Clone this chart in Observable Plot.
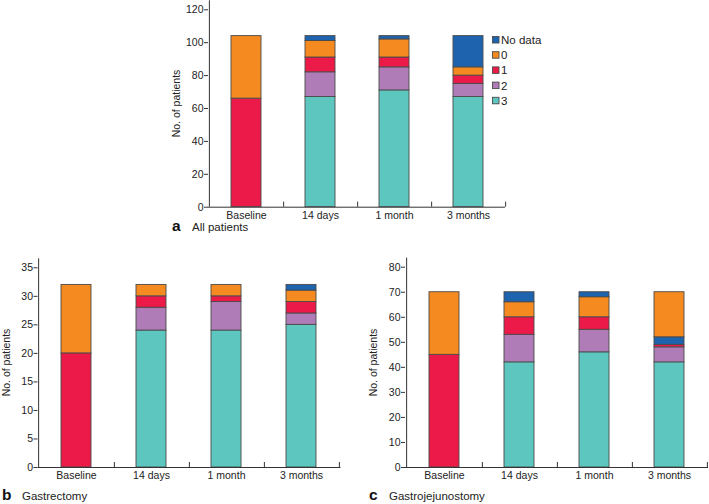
<!DOCTYPE html>
<html><head><meta charset="utf-8">
<script src="https://cdn.jsdelivr.net/npm/d3@7"></script>
<script src="https://cdn.jsdelivr.net/npm/@observablehq/plot@0.6"></script>
<style>
body{margin:0;background:#fff;}
#root{position:relative;width:709px;height:504px;overflow:hidden;font-family:"Liberation Sans",Arial,sans-serif;color:#222;}
#root > svg, #root > div{position:absolute;}
</style></head><body><div id="root"></div>
<script>
// ---------- data ----------
const categories = ["Baseline", "14 days", "1 month", "3 months"];
const seriesNames = ["3", "2", "1", "0", "No data"];       // default stacking order (bottom -> top)
const legendNames = ["No data", "0", "1", "2", "3"];
const seriesColors = ["#5cc6bf", "#b07cb7", "#ec1a48", "#f48a20", "#1d63ae"];

// a: All patients
const a3 = [0, 67, 71, 67];
const a2 = [0, 15, 14, 8];
const a1 = [66, 9, 6, 5];
const a0 = [38, 10, 11, 5];
const aNoData = [0, 3, 2, 19];
const aTicks = [0, 20, 40, 60, 80, 100, 120];

// b: Gastrectomy
const b3 = [0, 24, 24, 25];
const b2 = [0, 4, 5, 2];
const b1 = [20, 2, 1, 2];
const b0 = [12, 2, 2, 2];
const bNoData = [0, 0, 0, 1];
const bTicks = [0, 5, 10, 15, 20, 25, 30, 35];

// c: Gastrojejunostomy
const c3 = [0, 42, 46, 42];
const c2 = [0, 11, 9, 6];
const c1 = [45, 7, 5, 1];
const c0 = [25, 6, 8, 18];
const cNoData = [0, 4, 2, 3];
const cTicks = [0, 10, 20, 30, 40, 50, 60, 70, 80];
// in panel c the "3 months" bar stacks "No data" below "0"
const cOrder3m = ["3", "2", "1", "No data", "0"];

const panelLetters = ["a", "b", "c"];
const panelTitles = ["All patients", "Gastrectomy", "Gastrojejunostomy"];
const yTitle = "No. of patients";

// ---------- build ----------
function rowsFor(arrs, orders) {
  const rows = [];
  categories.forEach((cat, i) => {
    const order = (orders && orders[i]) || seriesNames;
    let acc = 0;
    for (const s of order) {
      const v = arrs[s][i];
      if (v > 0) { rows.push({cat, series: s, y1: acc, y2: acc + v}); acc += v; }
    }
  });
  return rows;
}

function panel(rows, ticks, g) {
  const {left, top, width, height, ml, mr, mt, mb} = g;
  const yMax = ticks[ticks.length - 1];
  const step = (width - ml - mr) / categories.length;
  const pxPerUnit = (height - mt - mb) / yMax;
  const tickUnits = 5 / pxPerUnit;
  const lineTop = yMax + 9 / pxPerUnit;
  const p = Plot.plot({
    width, height, marginLeft: ml, marginRight: mr, marginTop: mt, marginBottom: mb,
    style: {fontFamily: '"Liberation Sans", Arial, sans-serif', fontSize: "10.5px", color: "#222", background: "transparent", overflow: "visible"},
    x: {domain: categories, paddingInner: 0.596, paddingOuter: 0.298, label: null},
    y: {domain: [0, yMax], label: null},
    color: {domain: seriesNames, range: seriesColors},
    marks: [
      Plot.barY(rows, {x: "cat", y1: "y1", y2: "y2", fill: "series", stroke: "#4a4a4a", strokeWidth: 0.9}),
      Plot.ruleY([0], {stroke: "#333"}),
      Plot.ruleX([categories[0]], {x: d => d, y1: 0, y2: lineTop, dx: -step / 2, stroke: "#333"}),
      Plot.ruleX(categories, {x: d => d, y1: 0, y2: tickUnits, dx: step / 2, stroke: "#333"}),
      Plot.axisY(ticks, {tickSize: 4, tickPadding: 1, label: null, stroke: "#333"}),
      Plot.axisX({tickSize: 0, tickPadding: 4, label: null})
    ]
  });
  p.style.left = left + "px";
  p.style.top = top + "px";
  return p;
}

const root = document.getElementById("root");
const rowsA = rowsFor({"3": a3, "2": a2, "1": a1, "0": a0, "No data": aNoData});
const rowsB = rowsFor({"3": b3, "2": b2, "1": b1, "0": b0, "No data": bNoData});
const rowsC = rowsFor({"3": c3, "2": c2, "1": c1, "0": c0, "No data": cNoData}, [null, null, null, cOrder3m]);

root.appendChild(panel(rowsA, aTicks, {left: 150, top: 0, width: 370, height: 225, ml: 58, mr: 15, mt: 9.3, mb: 18.3}));
root.appendChild(panel(rowsB, bTicks, {left: 0, top: 240, width: 360, height: 250, ml: 37.5, mr: 19.5, mt: 27.3, mb: 23}));
root.appendChild(panel(rowsC, cTicks, {left: 360, top: 240, width: 349, height: 250, ml: 45, mr: 1, mt: 26.7, mb: 23}));

// overlay: titles, y titles, legend
const ns = "http://www.w3.org/2000/svg";
const ov = document.createElementNS(ns, "svg");
ov.setAttribute("width", 709); ov.setAttribute("height", 504);
ov.style.left = "0px"; ov.style.top = "0px";
ov.style.fontFamily = '"Liberation Sans", Arial, sans-serif';
ov.style.pointerEvents = "none";
root.appendChild(ov);
function txt(x, y, s, attrs) {
  const t = document.createElementNS(ns, "text");
  t.setAttribute("x", x); t.setAttribute("y", y); t.textContent = s;
  t.setAttribute("fill", "#222");
  for (const k in attrs) t.setAttribute(k, attrs[k]);
  ov.appendChild(t); return t;
}
const labelPos = [[172, 192, 231], [2, 22, 500], [369, 389, 500]];
labelPos.forEach(([lx, tx, by], i) => {
  txt(lx, by, panelLetters[i], {"font-size": 15.5, "font-weight": "bold", fill: "#111"});
  txt(tx, by, panelTitles[i], {"font-size": 11.5});
});
[[176, 103.5], [6, 362.5], [373, 362.5]].forEach(([x, y]) => {
  txt(0, 0, yTitle, {"font-size": 10.5, "text-anchor": "middle", "dominant-baseline": "central", transform: `translate(${x},${y}) rotate(-90)`});
});
legendNames.forEach((name, i) => {
  const cy = 40 + i * 15.2;
  const r = document.createElementNS(ns, "rect");
  r.setAttribute("x", 492.5); r.setAttribute("y", cy - 3.5);
  r.setAttribute("width", 6.5); r.setAttribute("height", 6.5);
  r.setAttribute("fill", seriesColors[seriesNames.indexOf(name)]);
  r.setAttribute("stroke", "#4a4a4a"); r.setAttribute("stroke-width", 0.9);
  ov.appendChild(r);
  txt(501, cy, name, {"font-size": 11.5, "dominant-baseline": "central"});
});
</script></body></html>
